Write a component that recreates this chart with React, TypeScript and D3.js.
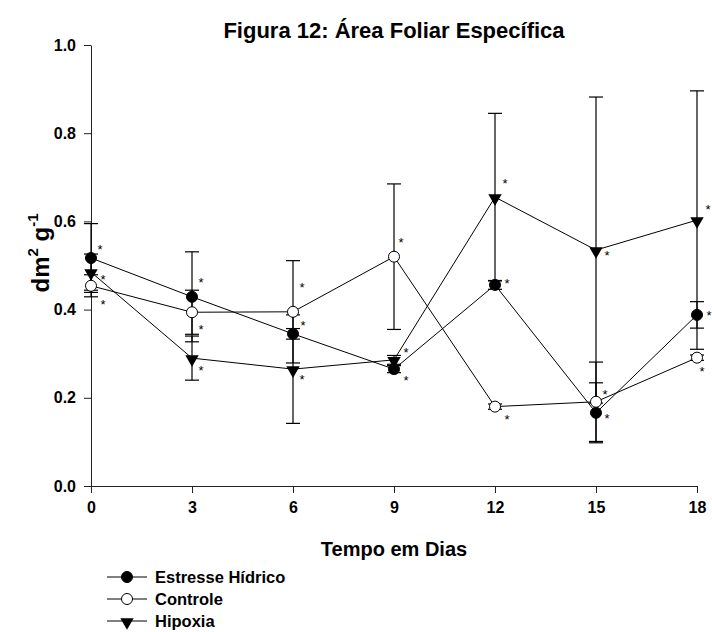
import { useEffect, useRef } from "react";
import * as d3 from "d3";

// dias de coleta
const DAYS = [0, 3, 6, 9, 12, 15, 18];

// médias e erros (dm2 g-1)
const ESTRESSE = [0.517, 0.429, 0.345, 0.265, 0.456, 0.166, 0.388];
const ESTRESSE_ERR = [0.078, 0.102, 0.012, 0.008, 0.01, 0.068, 0.03];
const CONTROLE = [0.454, 0.394, 0.395, 0.52, 0.18, 0.191, 0.291];
const CONTROLE_ERR = [0.025, 0.05, 0.116, 0.165, 0.006, 0.09, 0.006];
const HIPOXIA = [0.485, 0.29, 0.265, 0.286, 0.655, 0.535, 0.603];
const HIPOXIA_ERR = [0.041, 0.05, 0.123, 0.01, 0.19, 0.347, 0.293];

const Y_TICKS = [0, 0.2, 0.4, 0.6, 0.8, 1.0];

// deslocamento dos asteriscos (px), só layout
const STAR_E = [[9, -11], [9, -17], [10, -11], [12, 9], [12, -4], [11, 3], [12, -2]];
const STAR_C = [[12, 16], [9, 15], [9, -27], [7, -17], [12, 10], [9, -10], [5, 11]];
const STAR_H = [[12, 5], [9, 10], [9, 8], [12, -10], [10, -16], [11, 3], [11, -13]];

const SERIES = [
  { label: "Estresse Hídrico", values: ESTRESSE, err: ESTRESSE_ERR, marker: "filled", star: STAR_E },
  { label: "Controle", values: CONTROLE, err: CONTROLE_ERR, marker: "open", star: STAR_C },
  { label: "Hipoxia", values: HIPOXIA, err: HIPOXIA_ERR, marker: "tri", star: STAR_H },
];

const FONT = "'Liberation Sans', Arial, Helvetica, sans-serif";

function drawMarker(g: any, kind: string, cx: number, cy: number) {
  if (kind === "tri") {
    g.append("path")
      .attr("d", d3.symbol(d3.symbolTriangle, 78)())
      .attr("transform", `translate(${cx},${cy + 1}) rotate(180)`)
      .attr("fill", "#000");
  } else {
    g.append("circle")
      .attr("cx", cx).attr("cy", cy).attr("r", 5.5)
      .attr("fill", kind === "filled" ? "#000" : "#fff")
      .attr("stroke", "#000").attr("stroke-width", 1);
  }
}

export default function App() {
  const svgRef = useRef<SVGSVGElement>(null);

  useEffect(() => {
    const W = 712, H = 632;
    const m = { left: 91, right: 15, top: 45, bottom: 146 };
    const svg = d3.select(svgRef.current).attr("width", W).attr("height", H);
    svg.selectAll("*").remove();

    const x = d3.scaleLinear().domain([0, 18]).range([m.left, W - m.right]);
    const y = d3.scaleLinear().domain([0, 1]).range([H - m.bottom, m.top]);

    // título
    svg.append("text")
      .attr("x", 394).attr("y", 38)
      .attr("text-anchor", "middle")
      .attr("font-family", FONT).attr("font-weight", "bold").attr("font-size", 22)
      .text("Figura 12: Área Foliar Específica");

    // eixos
    svg.append("g")
      .attr("transform", `translate(${m.left},0)`)
      .call(d3.axisLeft(y).tickValues(Y_TICKS).tickFormat(d3.format(".1f")).tickSize(7).tickSizeOuter(0).tickPadding(8))
      .call((g: any) => {
        g.select(".domain").attr("stroke", "#222");
        g.selectAll("line").attr("stroke", "#222");
        g.selectAll("text").attr("font-family", FONT).attr("font-weight", "bold").attr("font-size", 16).attr("fill", "#000");
      });

    svg.append("g")
      .attr("transform", `translate(0,${y(0)})`)
      .call(d3.axisBottom(x).tickValues(DAYS).tickFormat(d3.format("d")).tickSize(7).tickSizeOuter(0).tickPadding(9))
      .call((g: any) => {
        g.select(".domain").attr("stroke", "#222");
        g.selectAll("line").attr("stroke", "#222");
        g.selectAll("text").attr("font-family", FONT).attr("font-weight", "bold").attr("font-size", 16).attr("fill", "#000");
      });

    // rótulos dos eixos
    svg.append("text")
      .attr("x", 394).attr("y", 556)
      .attr("text-anchor", "middle")
      .attr("font-family", FONT).attr("font-weight", "bold").attr("font-size", 20)
      .text("Tempo em Dias");

    const yl = svg.append("text")
      .attr("transform", "translate(49,253) rotate(-90)")
      .attr("text-anchor", "middle")
      .attr("font-family", FONT).attr("font-weight", "bold").attr("font-size", 24);
    yl.append("tspan").text("dm");
    yl.append("tspan").attr("font-size", 15).attr("dy", -11).text("2");
    yl.append("tspan").attr("dy", 11).text(" g");
    yl.append("tspan").attr("font-size", 15).attr("dy", -11).text("-1");

    const plot = svg.append("g");
    const line = d3.line<number>().x((_, i) => x(DAYS[i])).y((d) => y(d));

    SERIES.forEach((s) => {
      plot.append("path").datum(s.values)
        .attr("fill", "none").attr("stroke", "#000").attr("stroke-width", 1)
        .attr("d", line);
    });

    // barras de erro
    SERIES.forEach((s) => {
      s.values.forEach((v, i) => {
        const cx = x(DAYS[i]);
        const hi = y(v + s.err[i]), lo = y(v - s.err[i]);
        plot.append("line").attr("x1", cx).attr("x2", cx).attr("y1", hi).attr("y2", lo)
          .attr("stroke", "#000").attr("stroke-width", 1.2);
        [hi, lo].forEach((yy) => {
          plot.append("line").attr("x1", cx - 7).attr("x2", cx + 7).attr("y1", yy).attr("y2", yy)
            .attr("stroke", "#000").attr("stroke-width", 1.2);
        });
      });
    });

    // marcadores e asteriscos
    SERIES.forEach((s) => {
      s.values.forEach((v, i) => {
        const cx = x(DAYS[i]), cy = y(v);
        drawMarker(plot, s.marker, cx, cy);
        plot.append("text")
          .attr("x", cx + s.star[i][0]).attr("y", cy + s.star[i][1] + 7)
          .attr("text-anchor", "middle")
          .attr("font-family", FONT).attr("font-size", 13)
          .text("*");
      });
    });

    // legenda
    const leg = svg.append("g");
    SERIES.forEach((s, i) => {
      const ly = 577 + i * 22;
      leg.append("line").attr("x1", 107).attr("x2", 147).attr("y1", ly).attr("y2", ly)
        .attr("stroke", "#000").attr("stroke-width", 1);
      drawMarker(leg, s.marker, 127, ly);
      leg.append("text")
        .attr("x", 155).attr("y", ly + 6)
        .attr("font-family", FONT).attr("font-weight", "bold").attr("font-size", 16.5)
        .text(s.label);
    });
  }, []);

  return (
    <svg ref={svgRef} style={{ position: "absolute", left: 0, top: 0, display: "block", background: "#fff" }} />
  );
}
